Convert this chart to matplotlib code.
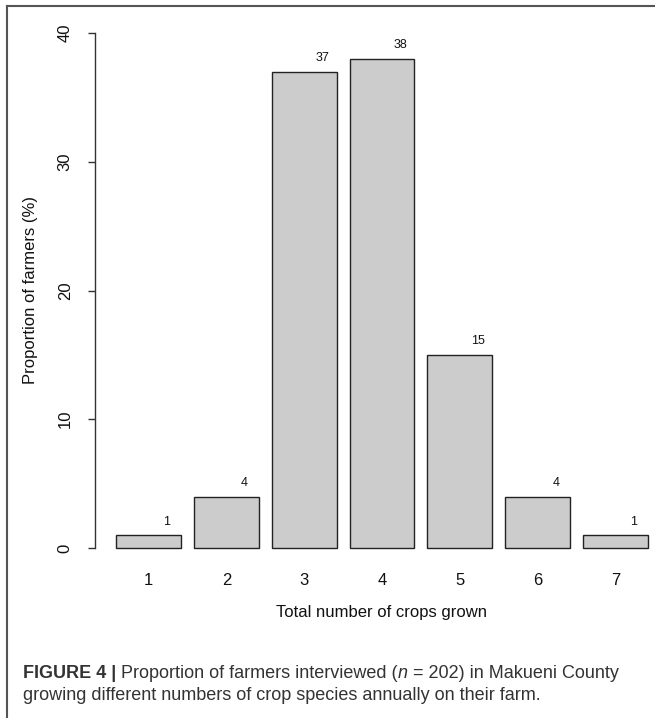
import matplotlib
matplotlib.use("Agg")
import matplotlib.pyplot as plt
from matplotlib.lines import Line2D

# data
n_crops = [1, 2, 3, 4, 5, 6, 7]
pct_farmers = [1, 4, 37, 38, 15, 4, 1]
y_ticks = [0, 10, 20, 30, 40]

plt.rcParams['font.family'] = ['Liberation Sans', 'DejaVu Sans']

W, H = 655, 718
fig = plt.figure(figsize=(W / 100, H / 100), dpi=100)

# R barplot style: width 1, space 0.2, 4% axis extension
width, space = 1.0, 0.2
lefts = [space + i * (width + space) for i in range(len(n_crops))]
centers = [l + width / 2 for l in lefts]
x0, x1 = lefts[0], lefts[-1] + width
xpad = 0.04 * (x1 - x0)
ypad = 0.04 * 40

ax = fig.add_axes([95 / W, 1 - 568.6 / H, 574 / W, 556.2 / H])
ax.bar(centers, pct_farmers, width=width, color='#cccccc',
       edgecolor='#222222', linewidth=1.0)
ax.set_xlim(x0 - xpad, x1 + xpad)
ax.set_ylim(-ypad, 40 + ypad)

for c, v in zip(centers, pct_farmers):
    ax.text(c + 0.28, v + 1.05, str(v), ha='center', va='center',
            fontsize=9, color='#111111')

for s in ['top', 'right', 'bottom']:
    ax.spines[s].set_visible(False)
ax.spines['left'].set_bounds(0, 40)
ax.spines['left'].set_color('#333333')
ax.spines['left'].set_linewidth(1.0)

ax.set_yticks(y_ticks)
ax.set_yticklabels([str(t) for t in y_ticks], rotation=90, va='center')
ax.tick_params(axis='y', length=5, width=1.0, color='#333333', pad=11,
               labelsize=12, labelcolor='#111111')
ax.set_xticks(centers)
ax.set_xticklabels([str(n) for n in n_crops])
ax.tick_params(axis='x', length=0, pad=3, labelsize=12, labelcolor='#111111')

ax.set_xlabel('Total number of crops grown', fontsize=12, color='#111111', va='center')
ax.xaxis.set_label_coords(0.5, -(612 - 568.6) / 556.2)
ax.set_ylabel('Proportion of farmers (%)', fontsize=12, color='#111111', va='center')
ax.yaxis.set_label_coords((30 - 95) / 574, 0.5)

# page frame (left and top rules)
fig.add_artist(Line2D([7 / W, 7 / W], [0, 1 - 6 / H], color='#555555', lw=1.5))
fig.add_artist(Line2D([7 / W, 1], [1 - 6 / H, 1 - 6 / H], color='#555555', lw=1.5))

# caption, drawn piece by piece
cap_col = '#333333'
cap_size = 13
renderer = fig.canvas.get_renderer()

def put_line(pieces, x_px, base_px):
    x = x_px
    for txt, weight, style in pieces:
        t = fig.text(x / W, 1 - base_px / H, txt, fontsize=cap_size, color=cap_col,
                     fontweight=weight, fontstyle=style, va='baseline', ha='left')
        bb = t.get_window_extent(renderer)
        x += bb.width

put_line([('FIGURE 4 |', 'bold', 'normal'),
          (' Proportion of farmers interviewed (', 'normal', 'normal'),
          ('n', 'normal', 'italic'),
          (' = 202) in Makueni County', 'normal', 'normal')], 23, 678)
put_line([('growing different numbers of crop species annually on their farm.',
           'normal', 'normal')], 23, 700)

fig.savefig('out.png', dpi=100)
